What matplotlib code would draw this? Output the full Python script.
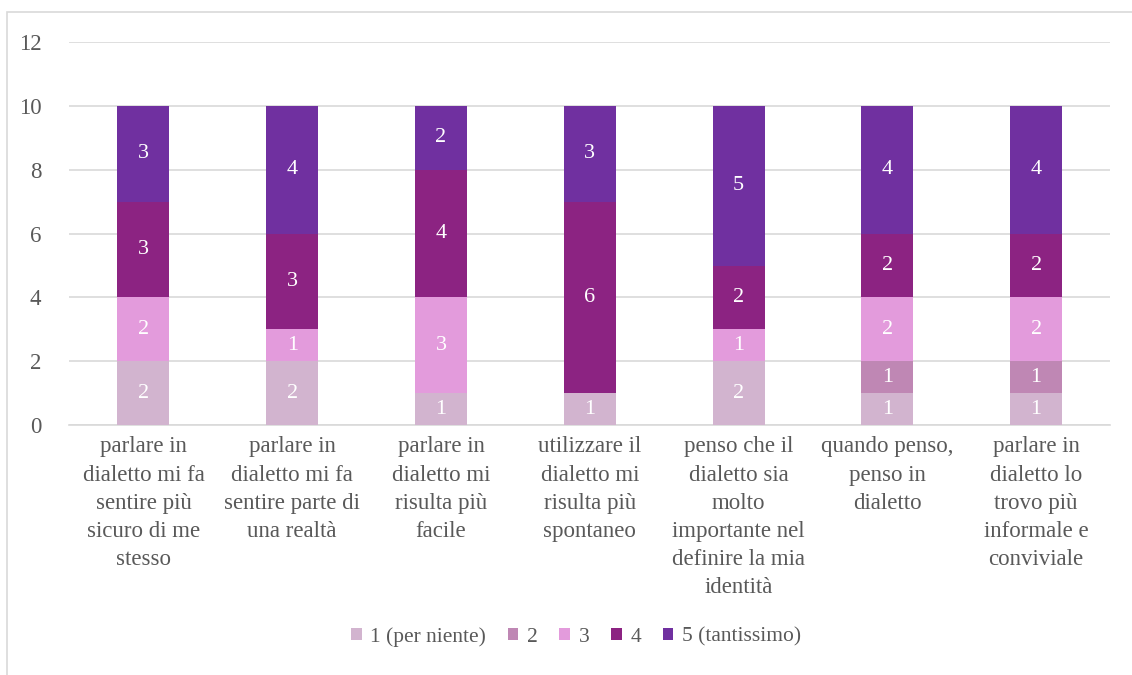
import matplotlib.pyplot as plt
import numpy as np
from matplotlib.patches import Rectangle

categories = [
    "parlare in\ndialetto mi fa\nsentire più\nsicuro di me\nstesso",
    "parlare in\ndialetto mi fa\nsentire parte di\nuna realtà",
    "parlare in\ndialetto mi\nrisulta più\nfacile",
    "utilizzare il\ndialetto mi\nrisulta più\nspontaneo",
    "penso che il\ndialetto sia\nmolto\nimportante nel\ndefinire la mia\nidentità",
    "quando penso,\npenso in\ndialetto",
    "parlare in\ndialetto lo\ntrovo più\ninformale e\nconviviale",
]
series_names = ["1 (per niente)", "2", "3", "4", "5 (tantissimo)"]
v1 = [2, 2, 1, 1, 2, 1, 1]
v2 = [0, 0, 0, 0, 0, 1, 1]
v3 = [2, 1, 3, 0, 1, 2, 2]
v4 = [3, 3, 4, 6, 2, 2, 2]
v5 = [3, 4, 2, 3, 5, 4, 4]
colors = ["#D2B4CF", "#BF87B4", "#E39BDC", "#8C2382", "#7030A0"]

plt.rcParams['font.family'] = ['Liberation Serif', 'DejaVu Serif']
grey = "#595959"

fig = plt.figure(figsize=(11.32, 6.75), dpi=100)
ax = fig.add_axes([0.061, 0.370, 0.920, 0.568])

# outer chart border
fig.patches.append(Rectangle((7 / 1132, -0.1), 1.2, 1 - 12 / 675 + 0.1,
                             transform=fig.transFigure, fill=False,
                             edgecolor="#D9D9D9", linewidth=1.2))

x = np.arange(len(categories))
bottom = np.zeros(len(categories))
for name, vals, col in zip(series_names, [v1, v2, v3, v4, v5], colors):
    vals = np.array(vals, dtype=float)
    bars = ax.bar(x, vals, width=0.35, bottom=bottom, color=col, label=name, zorder=3)
    labels = [str(int(v)) if v > 0 else "" for v in vals]
    ax.bar_label(bars, labels=labels, label_type="center", color="white", fontsize=16)
    bottom += vals

ax.set_xlim(-0.5, len(categories) - 0.5)
ax.set_ylim(0, 12)
ax.set_yticks(range(0, 13, 2))
ax.yaxis.grid(True, color="#D9D9D9", linewidth=1.2, zorder=0)
ax.set_axisbelow(True)
for s in ["top", "right", "left"]:
    ax.spines[s].set_visible(False)
ax.spines["bottom"].set_color("#D9D9D9")
ax.spines["bottom"].set_linewidth(1.2)
ax.tick_params(axis="both", length=0, colors=grey, labelsize=16.5)
ax.tick_params(axis="y", pad=20)
ax.set_xticks(x)
ax.set_xticklabels(categories, fontsize=16.5, color=grey, linespacing=1.45)
ax.tick_params(axis="x", pad=8)

fig.legend(loc="center", bbox_to_anchor=(576 / 1132, 1 - 637 / 675), ncol=5,
           frameon=False, fontsize=15.5, handlelength=0.5, handleheight=0.5,
           handletextpad=0.4, columnspacing=1.0, labelcolor=grey)

fig.savefig("out.png", dpi=100)
